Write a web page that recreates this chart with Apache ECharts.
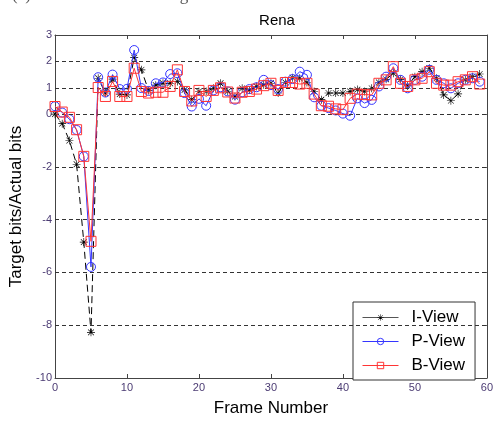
<!DOCTYPE html>
<html>
<head>
<meta charset="utf-8">
<script src="https://cdn.jsdelivr.net/npm/echarts@6/dist/echarts.min.js"></script>
<style>
  html, body { margin: 0; padding: 0; background: #fff; }
  #chart { width: 496px; height: 422px; }
</style>
</head>
<body>
<div id="chart"></div>
<script>
// Frame indices 0..59
const frames = Array.from({ length: 60 }, (_, i) => i);

// Target bits / actual bits per frame for each view
const iView = [
  0.0, -0.36, -1.0, -1.9, -4.85, -8.27, 1.36, 0.8, 1.33, 0.76,
  0.73, 2.14, 1.68, 0.9, 1.1, 1.17, 1.17, 1.24, 0.92, 0.55,
  0.86, 0.86, 0.98, 1.17, 0.86, 0.67, 0.98, 0.92, 1.05, 1.11,
  1.17, 0.8, 1.2, 1.38, 1.36, 1.2, 0.86, 0.55, 0.8, 0.8,
  0.8, 0.86, 0.93, 0.86, 0.98, 1.2, 1.32, 1.55, 1.32, 1.07,
  1.42, 1.61, 1.74, 1.36, 0.73, 0.51, 0.77, 1.3, 1.42, 1.52
];
const pView = [
  0.3, 0.06, -0.19, -0.6, -1.6, -5.79, 1.4, 0.82, 1.5, 0.95,
  0.96, 2.43, 0.99, 0.88, 1.17, 1.2, 1.52, 1.55, 0.8, 0.29,
  0.58, 0.32, 0.9, 1.02, 0.86, 0.55, 0.83, 0.95, 1.02, 1.3,
  1.1, 0.95, 1.23, 1.33, 1.61, 1.49, 0.64, 0.32, 0.23, 0.14,
  0.02, -0.06, 0.6, 0.42, 0.54, 1.05, 1.42, 1.74, 1.3, 0.98,
  1.3, 1.42, 1.68, 1.3, 1.17, 0.98, 1.17, 1.3, 1.36, 1.23
];
const bView = [
  0.29, 0.08, -0.12, -0.59, -1.6, -4.82, 1.01, 0.67, 1.24, 0.67,
  0.67, 1.74, 0.86, 0.8, 0.83, 0.83, 1.05, 1.68, 0.86, 0.5,
  0.9, 0.67, 0.9, 1.0, 0.84, 0.61, 0.83, 0.86, 0.95, 1.08,
  1.17, 0.9, 1.2, 1.2, 1.14, 1.17, 0.76, 0.32, 0.3, 0.2,
  0.17, 0.6, 0.76, 0.74, 0.73, 1.17, 1.3, 1.8, 1.17, 1.05,
  1.3, 1.36, 1.61, 1.17, 1.1, 1.1, 1.23, 1.3, 1.42, 1.14
];

// Axis ticks
const xTicks = [0, 10, 20, 30, 40, 50, 60];
const yTicks = [3, 2, 1, 0, -2, -4, -6, -8, -10];
const yGrid = [2, 1, 0, -2, -4, -6, -8];

// asterisk marker (plus + cross) built from thin filled bars
const starPath = 'path://M9.2 0L10.8 0L10.8 20L9.2 20Z M0 9.2L20 9.2L20 10.8L0 10.8Z ' +
  'M3.2 2.1L17.9 16.8L16.8 17.9L2.1 3.2Z M16.8 2.1L17.9 3.2L3.2 17.9L2.1 16.8Z';

const labelColor = '#4b3b73';
const frameColor = '#444';
const blue = '#3535ff';
const red = '#ff3535';
const clear = 'rgba(255,255,255,0)';
const pairs = arr => arr.map((v, i) => [frames[i], v]);

// hollow markers with a 1px outline
const circleStyle = { color: clear, borderColor: blue, borderWidth: 1 };
const squareStyle = { color: clear, borderColor: red, borderWidth: 1 };

const chart = echarts.init(document.getElementById('chart'), null, { renderer: 'canvas' });

chart.setOption({
  animation: false,
  backgroundColor: '#fff',
  title: {
    text: 'Rena',
    left: 272, top: 8, textAlign: 'center',
    textStyle: { fontFamily: 'Arial, Liberation Sans', fontSize: 15, fontWeight: 'normal', color: '#000' }
  },
  graphic: [{
    type: 'text', left: 12, top: -13,
    style: {
      text: '(a) The ratio between target bits and actual bits of Rena',
      font: '17px "Liberation Serif", serif', fill: '#555'
    }
  }],
  grid: { left: 55, right: 4, top: 35, bottom: 43, containLabel: false },
  legend: {
    orient: 'vertical',
    left: 353, top: 302,
    width: 133, height: 70,
    padding: [7, 10, 6, 9],
    itemGap: 7,
    itemWidth: 36, itemHeight: 8,
    backgroundColor: '#fff',
    borderColor: '#333', borderWidth: 1,
    textStyle: { fontFamily: 'Arial, Liberation Sans', fontSize: 17, color: '#000', padding: [0, 0, 0, 8] },
    data: [
      { name: 'I-View', lineStyle: { type: 'solid', color: '#555', width: 1 } },
      { name: 'P-View', itemStyle: circleStyle, lineStyle: { color: blue, width: 1 } },
      { name: 'B-View', itemStyle: squareStyle, lineStyle: { color: red, width: 1 } }
    ]
  },
  xAxis: [{
    type: 'value', min: 0, max: 60, interval: 10,
    name: 'Frame Number', nameLocation: 'middle', nameGap: 22,
    nameTextStyle: { fontFamily: 'Arial, Liberation Sans', fontSize: 17, color: '#000', verticalAlign: 'top' },
    axisLine: { show: true, onZero: false, lineStyle: { color: frameColor, width: 1 } },
    axisTick: { show: true, inside: true, length: 4, lineStyle: { color: frameColor } },
    axisLabel: {
      margin: 4, fontFamily: 'Arial, Liberation Sans', fontSize: 11, color: labelColor,
      customValues: xTicks
    },
    splitLine: { show: false }
  }, {
    type: 'value', position: 'top', min: 0, max: 60, interval: 10,
    axisLine: { show: true, onZero: false, lineStyle: { color: frameColor, width: 1 } },
    axisTick: { show: true, inside: true, length: 4, lineStyle: { color: frameColor } },
    axisLabel: { show: false },
    splitLine: { show: false }
  }],
  yAxis: [{
    type: 'value', min: -10, max: 3, interval: 1,
    name: 'Target bits/Actual bits', nameLocation: 'middle', nameGap: 26,
    nameTextStyle: { fontFamily: 'Arial, Liberation Sans', fontSize: 17, color: '#000', verticalAlign: 'bottom' },
    axisLine: { show: true, onZero: false, lineStyle: { color: frameColor, width: 1 } },
    axisTick: { show: true, inside: true, length: 4, lineStyle: { color: frameColor }, customValues: yTicks },
    axisLabel: {
      margin: 3, fontFamily: 'Arial, Liberation Sans', fontSize: 11, color: labelColor,
      customValues: yTicks
    },
    splitLine: { show: false }
  }, {
    type: 'value', position: 'right', min: -10, max: 3, interval: 1,
    axisLine: { show: true, onZero: false, lineStyle: { color: frameColor, width: 1 } },
    axisTick: { show: true, inside: true, length: 4, lineStyle: { color: frameColor }, customValues: yTicks },
    axisLabel: { show: false },
    splitLine: { show: false }
  }],
  series: [
    {
      name: 'I-View', type: 'line', data: pairs(iView),
      symbol: starPath, symbolSize: 8,
      itemStyle: { color: '#000' },
      lineStyle: { color: '#000', width: 1, type: [7, 4] },
      z: 3,
      markLine: {
        silent: true, symbol: 'none', label: { show: false },
        lineStyle: { color: '#333', width: 1, type: [4, 3] },
        data: yGrid.map(v => ({ yAxis: v }))
      }
    },
    {
      name: 'P-View', type: 'line', data: pairs(pView),
      symbol: 'circle', symbolSize: 9,
      itemStyle: circleStyle,
      lineStyle: { color: blue, width: 1 },
      z: 4
    },
    {
      name: 'B-View', type: 'line', data: pairs(bView),
      symbol: 'rect', symbolSize: 10,
      itemStyle: squareStyle,
      lineStyle: { color: red, width: 1 },
      z: 5
    }
  ]
});
</script>
</body>
</html>
